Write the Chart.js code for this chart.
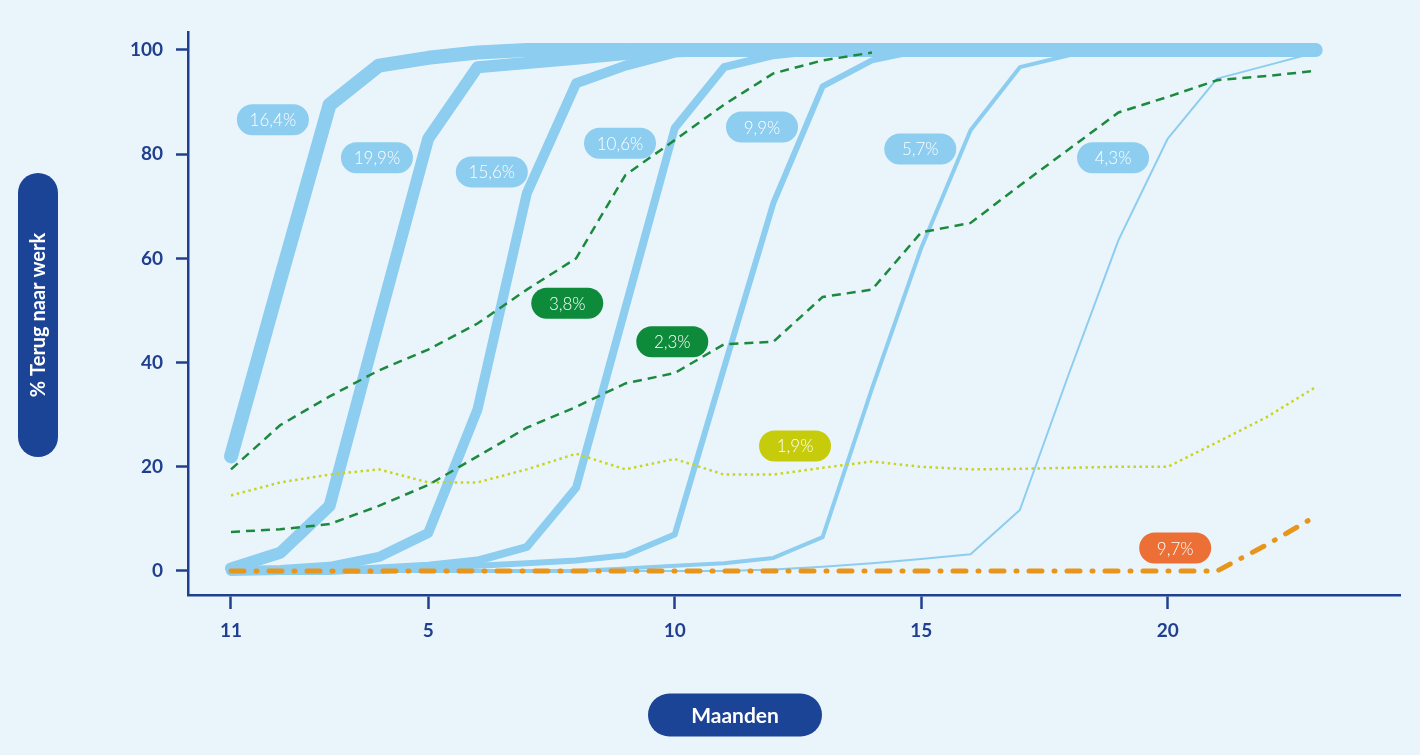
<!DOCTYPE html>
<html lang="nl">
<head>
<meta charset="UTF-8">
<title>Terug naar werk</title>
<script src="https://cdn.jsdelivr.net/npm/chart.js"></script>
<style>
  html, body { margin: 0; padding: 0; background: #EAF5FB; }
  #wrap { width: 1420px; height: 755px; }
</style>
</head>
<body>
<div id="wrap"><canvas id="grafiek" width="1420" height="755"></canvas></div>

<script>
// maanden 1 t/m 23
const maanden = [1, 2, 3, 4, 5, 6, 7, 8, 9, 10, 11, 12, 13, 14, 15, 16, 17, 18, 19, 20, 21, 22, 23];

const xTickWaarden = [1, 5, 10, 15, 20];
const xTickLabels = ['11', '5', '10', '15', '20'];
const yTickWaarden = [0, 20, 40, 60, 80, 100];

// blauwe curves (dik naar dun)
const blauw164 = [22, 56, 89.5, 97, 98.5, 99.5, 100, 100, 100, 100, 100, 100, 100, 100, 100, 100, 100, 100, 100, 100, 100, 100, 100];
const blauw199 = [0.5, 3.5, 12.5, 48, 83, 96.7, 97.5, 98.3, 99.2, 100, 100, 100, 100, 100, 100, 100, 100, 100, 100, 100, 100, 100, 100];
const blauw156 = [0, 0.2, 0.8, 2.7, 7.3, 31, 72.5, 93.6, 97, 99.5, 100, 100, 100, 100, 100, 100, 100, 100, 100, 100, 100, 100, 100];
const blauw106 = [0, 0, 0, 0.5, 1, 2, 4.6, 16, 50.5, 85, 96.7, 99, 100, 100, 100, 100, 100, 100, 100, 100, 100, 100, 100];
const blauw99  = [0, 0, 0, 0, 0.5, 1, 1.5, 2, 3, 7, 39, 70.6, 93, 98, 100, 100, 100, 100, 100, 100, 100, 100, 100];
const blauw57  = [0, 0, 0, 0, 0, 0, 0, 0, 0.5, 1, 1.5, 2.5, 6.5, 35, 62, 84.6, 96.7, 99, 100, 100, 100, 100, 100];
const blauw43  = [0, 0, 0, 0, 0, 0, 0, 0, 0, 0, 0, 0.3, 0.8, 1.5, 2.3, 3.2, 11.7, 38, 63.5, 83, 94.5, 97, 99.5];

// groen gestreept
const groen38 = [19.5, 28, 33.5, 38.5, 42.5, 47.5, 54, 60, 76, 82.7, 89.5, 95.5, 98, 99.5, null, null, null, null, null, null, null, null, null];
const groen23 = [7.5, 8, 9, 12.5, 16.5, 22, 27.5, 31.5, 36, 38, 43.5, 44, 52.6, 54, 65, 66.8, 74, 81, 88, 91, 94.2, 95, 96];

// geel gestippeld
const geel19 = [14.5, 17, 18.5, 19.5, 17, 17, 19.5, 22.5, 19.5, 21.5, 18.5, 18.5, 19.8, 21, 20, 19.5, 19.6, 19.8, 20, 20, 24.7, 29.5, 35.3];

// oranje streep-punt
const oranje97 = [0, 0, 0, 0, 0, 0, 0, 0, 0, 0, 0, 0, 0, 0, 0, 0, 0, 0, 0, 0, 0, 5, 10.5];

// labels bij de lijnen
const labelTeksten = ['16,4%', '19,9%', '15,6%', '10,6%', '9,9%', '5,7%', '4,3%', '3,8%', '2,3%', '1,9%', '9,7%'];

const NAVY = '#20408F';
const BLAUW = '#8CCDF0';
const GROEN = '#1C8A3E';
const GEEL = '#C9D421';
const ORANJE = '#E8951C';

function punten(reeks) {
  return maanden.map((m, i) => ({ x: m, y: reeks[i] }));
}

function blauweLijn(reeks, dikte) {
  return {
    data: punten(reeks),
    borderColor: BLAUW,
    borderWidth: dikte,
    borderCapStyle: 'round',
    borderJoinStyle: 'round',
    pointRadius: 0,
    tension: 0
  };
}

// ankers van de labels in as-eenheden (maand, %)
const labelAnkers = [
  [1.85, 86.6], [3.96, 79.3], [6.29, 76.6], [8.89, 82.1], [11.77, 85.2],
  [14.98, 81.0], [18.89, 79.3], [7.82, 51.4], [9.95, 44.0], [12.44, 24.0], [20.15, 4.4]
];
const labelKleuren = ['#8CCDF0', '#8CCDF0', '#8CCDF0', '#8CCDF0', '#8CCDF0', '#8CCDF0', '#8CCDF0',
  '#0E8A3B', '#0E8A3B', '#C6CC0C', '#EC6F36'];

function pil(ctx, cx, cy, w, h, kleur) {
  const r = h / 2;
  const x = cx - w / 2, y = cy - h / 2;
  ctx.beginPath();
  ctx.moveTo(x + r, y);
  ctx.lineTo(x + w - r, y);
  ctx.arc(x + w - r, y + r, r, -Math.PI / 2, Math.PI / 2);
  ctx.lineTo(x + r, y + h);
  ctx.arc(x + r, y + r, r, Math.PI / 2, Math.PI * 1.5);
  ctx.closePath();
  ctx.fillStyle = kleur;
  ctx.fill();
}

const achtergrond = {
  id: 'achtergrond',
  beforeDraw(chart) {
    const ctx = chart.ctx;
    ctx.save();
    ctx.fillStyle = '#EAF5FB';
    ctx.fillRect(0, 0, chart.width, chart.height);
    ctx.restore();
  }
};

const pillen = {
  id: 'pillen',
  afterDraw(chart) {
    const ctx = chart.ctx;
    const xs = chart.scales.x, ys = chart.scales.y;
    ctx.save();
    ctx.textAlign = 'center';
    ctx.textBaseline = 'middle';
    ctx.font = '300 17px Lato, "Open Sans", sans-serif';
    labelTeksten.forEach((tekst, i) => {
      const cx = xs.getPixelForValue(labelAnkers[i][0]);
      const cy = ys.getPixelForValue(labelAnkers[i][1]);
      pil(ctx, cx, cy, 72, 31, labelKleuren[i]);
      ctx.fillStyle = '#FFFFFF';
      ctx.fillText(tekst, cx, cy + 1);
    });

    // as-titels als pillen
    ctx.font = 'bold 21px Lato, "Open Sans", sans-serif';
    pil(ctx, 735, 715, 174, 43, '#1C4496');
    ctx.fillStyle = '#FFFFFF';
    ctx.fillText('Maanden', 735, 716);

    ctx.translate(38, 315);
    ctx.rotate(-Math.PI / 2);
    pil(ctx, 0, 0, 284, 40, '#1C4496');
    ctx.fillStyle = '#FFFFFF';
    ctx.font = 'bold 20px Lato, "Open Sans", sans-serif';
    ctx.fillText('% Terug naar werk', 0, 1);
    ctx.restore();
  }
};

const config = {
  type: 'line',
  data: {
    datasets: [
      {
        data: punten(oranje97), borderColor: ORANJE, borderWidth: 5,
        borderDash: [13, 12, 1, 12], borderCapStyle: 'round', pointRadius: 0, tension: 0
      },
      {
        data: punten(groen38), borderColor: GROEN, borderWidth: 2.5,
        borderDash: [9, 6], pointRadius: 0, tension: 0
      },
      {
        data: punten(groen23), borderColor: GROEN, borderWidth: 2.5,
        borderDash: [9, 6], pointRadius: 0, tension: 0
      },
      {
        data: punten(geel19), borderColor: GEEL, borderWidth: 2.5,
        borderDash: [2.5, 3.5], pointRadius: 0, tension: 0
      },
      blauweLijn(blauw43, 2),
      blauweLijn(blauw57, 4),
      blauweLijn(blauw99, 6),
      blauweLijn(blauw106, 8),
      blauweLijn(blauw156, 10),
      blauweLijn(blauw199, 12),
      blauweLijn(blauw164, 14)
    ]
  },
  options: {
    responsive: false,
    animation: false,
    devicePixelRatio: 1,
    layout: { padding: { top: 32, right: 20, left: 0, bottom: 0 } },
    plugins: {
      legend: { display: false },
      tooltip: { enabled: false }
    },
    scales: {
      x: {
        type: 'linear',
        min: 0.128,
        max: 24.71,
        afterFit(scale) { scale.height = 160; },
        afterBuildTicks(scale) { scale.ticks = xTickWaarden.map(v => ({ value: v })); },
        grid: {
          drawOnChartArea: false,
          drawTicks: true,
          tickLength: 14,
          tickWidth: 2.5,
          tickColor: NAVY,
          color: NAVY
        },
        border: { display: true, color: NAVY, width: 2.5 },
        ticks: {
          autoSkip: false,
          maxRotation: 0,
          padding: 10,
          color: NAVY,
          font: { family: 'Lato, "Open Sans", sans-serif', size: 19, weight: 'bold' },
          callback: (v, i) => xTickLabels[i]
        }
      },
      y: {
        min: -4.61,
        max: 103.45,
        afterFit(scale) { scale.width = 188; },
        afterBuildTicks(scale) { scale.ticks = yTickWaarden.map(v => ({ value: v })); },
        grid: {
          drawOnChartArea: false,
          drawTicks: true,
          tickLength: 12,
          tickWidth: 2.5,
          tickColor: NAVY,
          color: NAVY
        },
        border: { display: true, color: NAVY, width: 2.5 },
        ticks: {
          padding: 13,
          color: NAVY,
          font: { family: 'Lato, "Open Sans", sans-serif', size: 19, weight: 'bold' }
        }
      }
    }
  },
  plugins: [achtergrond, pillen]
};

const grafiek = new Chart(document.getElementById('grafiek'), config);
</script>
</body>
</html>
